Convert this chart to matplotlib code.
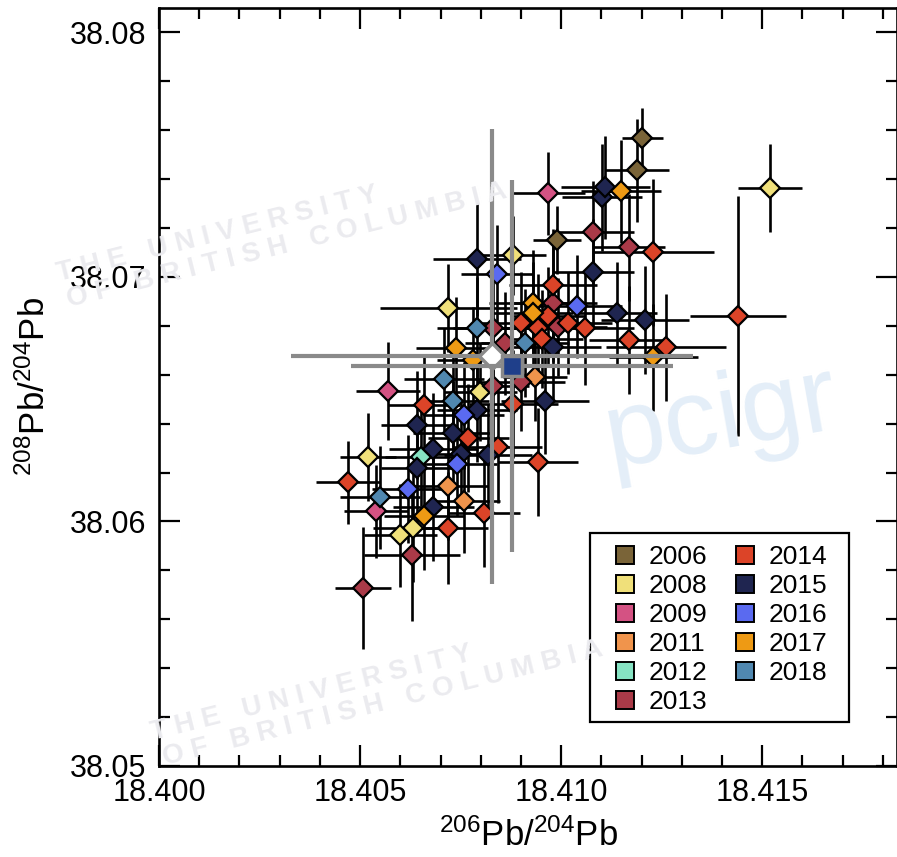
import matplotlib
matplotlib.use('Agg')
import matplotlib.pyplot as plt
from matplotlib.patches import Rectangle
import numpy as np

plt.rcParams['font.family'] = ['Liberation Sans', 'DejaVu Sans']
plt.rcParams['mathtext.default'] = 'regular'

# years and colours of the campaigns
years = ['2006', '2008', '2009', '2011', '2012', '2013',
         '2014', '2015', '2016', '2017', '2018']
colors = ['#7a6438', '#f0e07a', '#d45283', '#f0944c', '#86e3c3', '#aa3a48',
          '#dc4428', '#1f2550', '#5a6af0', '#ee9a14', '#5088b0']

# (206Pb/204Pb, 208Pb/204Pb, err x, err y) for each sample
pts_2006 = [(18.41202, 38.07570, 0.0005, 0.0012),
            (18.41189, 38.07436, 0.0008, 0.0021),
            (18.40990, 38.07150, 0.0006, 0.0014)]
pts_2008 = [(18.41520, 38.07362, 0.0008, 0.0018),
            (18.40881, 38.07088, 0.0008, 0.0016),
            (18.40719, 38.06872, 0.0017, 0.0018),
            (18.40799, 38.06528, 0.0009, 0.0020),
            (18.40520, 38.06263, 0.0007, 0.0018),
            (18.40632, 38.05973, 0.0010, 0.0022),
            (18.40600, 38.05944, 0.0009, 0.0021)]
pts_2009 = [(18.40968, 38.07342, 0.0009, 0.0017),
            (18.40570, 38.06532, 0.0008, 0.0020),
            (18.40540, 38.06042, 0.0008, 0.0019)]
pts_2011 = [(18.40935, 38.06590, 0.0008, 0.0018),
            (18.40719, 38.06144, 0.0010, 0.0022),
            (18.40759, 38.06083, 0.0009, 0.0021)]
pts_2012 = [(18.40652, 38.06263, 0.0009, 0.0020)]
pts_2013 = [(18.41080, 38.07182, 0.0010, 0.0021),
            (18.41169, 38.07121, 0.0009, 0.0022),
            (18.40980, 38.06892, 0.0011, 0.0024),
            (18.40831, 38.06790, 0.0010, 0.0022),
            (18.40993, 38.06794, 0.0012, 0.0020),
            (18.40861, 38.06729, 0.0010, 0.0021),
            (18.40900, 38.06569, 0.0011, 0.0020),
            (18.40831, 38.06553, 0.0009, 0.0022),
            (18.40629, 38.05862, 0.0012, 0.0027),
            (18.40508, 38.05727, 0.0007, 0.0025)]
pts_2014 = [(18.41440, 38.06839, 0.0012, 0.0049),
            (18.41229, 38.07100, 0.0015, 0.0030),
            (18.41169, 38.06741, 0.0010, 0.0022),
            (18.41261, 38.06712, 0.0015, 0.0022),
            (18.40980, 38.06966, 0.0011, 0.0023),
            (18.40900, 38.06812, 0.0010, 0.0021),
            (18.40943, 38.06790, 0.0012, 0.0022),
            (18.40968, 38.06839, 0.0009, 0.0020),
            (18.41017, 38.06812, 0.0011, 0.0021),
            (18.41060, 38.06790, 0.0012, 0.0023),
            (18.40953, 38.06745, 0.0010, 0.0020),
            (18.40881, 38.06481, 0.0011, 0.0022),
            (18.40659, 38.06475, 0.0009, 0.0021),
            (18.40769, 38.06342, 0.0010, 0.0022),
            (18.40843, 38.06304, 0.0011, 0.0023),
            (18.40943, 38.06242, 0.0010, 0.0022),
            (18.40470, 38.06161, 0.0008, 0.0017),
            (18.40808, 38.06034, 0.0009, 0.0022),
            (18.40719, 38.05973, 0.0010, 0.0023)]
pts_2015 = [(18.41102, 38.07325, 0.0010, 0.0022),
            (18.41110, 38.07366, 0.0011, 0.0021),
            (18.40791, 38.07072, 0.0011, 0.0023),
            (18.41080, 38.07019, 0.0010, 0.0022),
            (18.41139, 38.06853, 0.0010, 0.0021),
            (18.41209, 38.06823, 0.0011, 0.0022),
            (18.40980, 38.06712, 0.0012, 0.0022),
            (18.40960, 38.06494, 0.0011, 0.0022),
            (18.40791, 38.06455, 0.0010, 0.0021),
            (18.40642, 38.06394, 0.0009, 0.0022),
            (18.40731, 38.06363, 0.0010, 0.0021),
            (18.40682, 38.06295, 0.0011, 0.0023),
            (18.40751, 38.06277, 0.0010, 0.0022),
            (18.40818, 38.06271, 0.0011, 0.0021),
            (18.40642, 38.06218, 0.0009, 0.0022),
            (18.40682, 38.06058, 0.0010, 0.0022)]
pts_2016 = [(18.40841, 38.07011, 0.0009, 0.0020),
            (18.41040, 38.06880, 0.0011, 0.0021),
            (18.40759, 38.06434, 0.0010, 0.0022),
            (18.40741, 38.06234, 0.0010, 0.0021),
            (18.40619, 38.06132, 0.0009, 0.0022)]
pts_2017 = [(18.41149, 38.07350, 0.0010, 0.0021),
            (18.40930, 38.06892, 0.0011, 0.0022),
            (18.40930, 38.06851, 0.0010, 0.0021),
            (18.41229, 38.06671, 0.0011, 0.0022),
            (18.40739, 38.06708, 0.0010, 0.0021),
            (18.40781, 38.06659, 0.0009, 0.0022),
            (18.40659, 38.06022, 0.0010, 0.0022)]
pts_2018 = [(18.40791, 38.06790, 0.0010, 0.0021),
            (18.40910, 38.06729, 0.0011, 0.0022),
            (18.40709, 38.06582, 0.0010, 0.0021),
            (18.40731, 38.06494, 0.0009, 0.0022),
            (18.40550, 38.06099, 0.0010, 0.0021)]

all_pts = [pts_2006, pts_2008, pts_2009, pts_2011, pts_2012, pts_2013,
           pts_2014, pts_2015, pts_2016, pts_2017, pts_2018]

# reference values (diamond and square) with their uncertainties
ref_diamond = (18.40828, 38.06676, 0.0050, 0.0093)
ref_square = (18.40878, 38.06635, 0.0040, 0.0076)

fig = plt.figure(figsize=(8.97, 8.57), dpi=100)
ax = fig.add_axes([0.1773, 0.1062, 0.8227, 0.8845])

# faint watermarks
wm = '#ebebef'
fig.text(0.06, 0.672, 'T H E   U N I V E R S I T Y', rotation=14, color=wm,
         fontsize=20, fontweight='bold', zorder=0)
fig.text(0.072, 0.642, 'O F   B R I T I S H   C O L U M B I A', rotation=14,
         color=wm, fontsize=20, fontweight='bold', zorder=0)
fig.text(0.165, 0.137, 'T H E   U N I V E R S I T Y', rotation=14, color=wm,
         fontsize=20, fontweight='bold', zorder=0)
fig.text(0.178, 0.107, 'O F   B R I T I S H   C O L U M B I A', rotation=14,
         color=wm, fontsize=20, fontweight='bold', zorder=0)
fig.text(0.665, 0.455, 'pcigr', rotation=10, color='#e4eef8', fontsize=78,
         zorder=0)

for pts in all_pts:
    a = np.array(pts)
    ax.errorbar(a[:, 0], a[:, 1], xerr=a[:, 2], yerr=a[:, 3], fmt='none',
                ecolor='black', elinewidth=1.9, capsize=0, zorder=2)

for pts, yr, c in zip(all_pts, years, colors):
    a = np.array(pts)
    ax.plot(a[:, 0], a[:, 1], 'D', ms=10.5, mfc=c, mec='black', mew=1.6,
            zorder=3)
    ax.plot([], [], 's', ms=12.5, mfc=c, mec='black', mew=1.4, label=yr)

gray = '#8a8a8a'
ax.errorbar(ref_diamond[0], ref_diamond[1], xerr=ref_diamond[2],
            yerr=ref_diamond[3], fmt='D', ms=13, mfc='white', mec=gray, mew=2.5,
            ecolor=gray, elinewidth=3, capsize=0, zorder=5)
ax.errorbar(ref_square[0], ref_square[1], xerr=ref_square[2],
            yerr=ref_square[3], fmt='s', ms=14, mfc='#1f3f8a', mec=gray, mew=2.5,
            ecolor=gray, elinewidth=3, capsize=0, zorder=6)

ax.set_xlim(18.400, 18.41835)
ax.set_ylim(38.05, 38.081)
ax.set_xticks([18.400, 18.405, 18.410, 18.415])
ax.set_xticklabels(['18.400', '18.405', '18.410', '18.415'])
ax.set_yticks([38.05, 38.06, 38.07, 38.08])
ax.set_yticklabels(['38.05', '38.06', '38.07', '38.08'])
ax.set_xticks(np.arange(18.400, 18.4185, 0.001), minor=True)
ax.set_yticks(np.arange(38.05, 38.081, 0.002), minor=True)
ax.tick_params(which='both', direction='in', top=True, right=True,
               width=1.6, labelsize=22)
ax.tick_params(which='major', length=15, pad=9)
ax.tick_params(which='minor', length=8)
for s in ax.spines.values():
    s.set_linewidth(1.9)

ax.set_xlabel(r'$^{206}$Pb/$^{204}$Pb', fontsize=25, labelpad=7)
ax.set_ylabel(r'$^{208}$Pb/$^{204}$Pb', fontsize=25, labelpad=13)

# legend box drawn separately, entries placed inside it
box = Rectangle((0.5846, 0.058), 0.3504, 0.2494, transform=ax.transAxes,
                facecolor='white', edgecolor='black', lw=1.6, zorder=9)
ax.add_patch(box)
leg = ax.legend(ncol=2, loc='upper left', bbox_to_anchor=(0.5986, 0.305),
                borderaxespad=0, fontsize=19, frameon=False, handlelength=1.0,
                handletextpad=0.42, columnspacing=0.9, labelspacing=0.19,
                borderpad=0.4)
leg.set_zorder(10)

fig.savefig('out.png', dpi=100)
